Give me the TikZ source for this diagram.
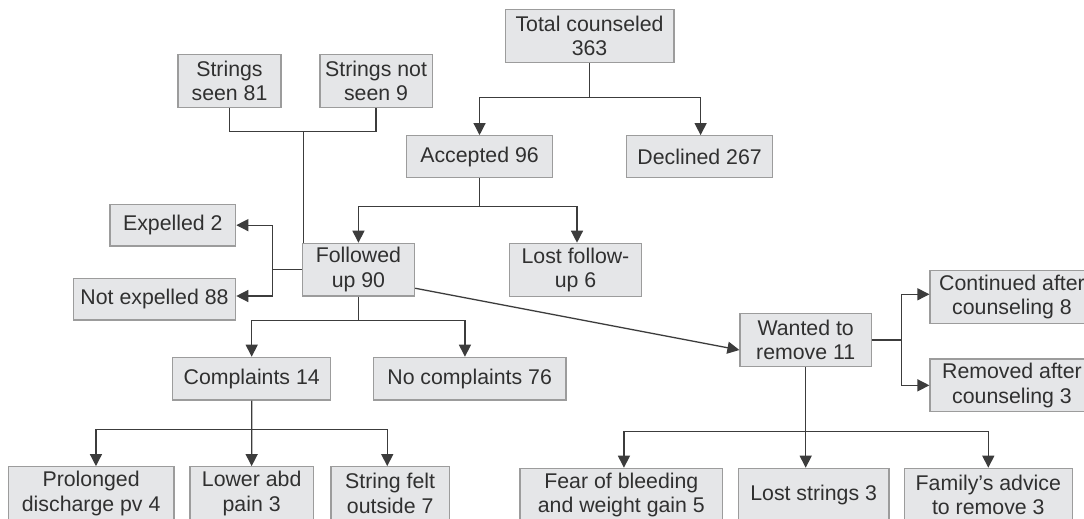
\documentclass[tikz,border=0pt]{standalone}
\usepackage{fontspec}
\setmainfont{Liberation Sans}
\usetikzlibrary{arrows.meta}
\definecolor{boxfill}{HTML}{E5E6E8}
\definecolor{boxline}{HTML}{9C9C9C}
\definecolor{txt}{HTML}{303030}
\definecolor{conn}{HTML}{3C3C3C}
\tikzset{
  box/.style={draw=boxline, line width=1.2pt, fill=boxfill, text=txt, inner sep=0pt,
    align=center, font=\fontsize{21.3}{24.5}\selectfont},
  ln/.style={draw=conn, line width=1.3pt},
  arr/.style={ln, -{Triangle[length=12pt,width=12pt]}, color=conn}
}
\begin{document}
\begin{tikzpicture}[x=1pt,y=-1pt]
\useasboundingbox (0,0) rectangle (1084,519);
\clip (0,0) rectangle (1084,519);
\fill[white] (0,0) rectangle (1084,519);

% nodes
\node[box, minimum width=168.7pt, minimum height=53.4pt] (total) at (589.55,36) {Total counseled\\363};
\node[box, minimum width=146.5pt, minimum height=42pt] (accepted) at (479.55,156.7) {Accepted 96};
\node[box, minimum width=146.4pt, minimum height=42pt] (declined) at (699.6,156.7) {Declined 267};
\node[box, minimum width=103pt, minimum height=53.4pt] (s81) at (229.5,81) {Strings\\seen 81};
\node[box, minimum width=112.3pt, minimum height=53.4pt] (s9) at (376.05,81) {Strings not\\seen 9};
\node[box, minimum width=125.7pt, minimum height=41.7pt] (expelled) at (172.85,225.15) {Expelled 2};
\node[box, minimum width=112.3pt, minimum height=52.7pt] (followed) at (358.45,269.65) {Followed\\up 90};
\node[box, minimum width=132.4pt, minimum height=53.4pt] (lost) at (575.5,270) {Lost follow-\\up 6};
\node[box, minimum width=162.4pt, minimum height=41.7pt] (notexp) at (154.5,299.15) {Not expelled 88};
\node[box, minimum width=158pt, minimum height=42.7pt] (complaints) at (251.7,378.65) {Complaints 14};
\node[box, minimum width=192.7pt, minimum height=42.7pt] (nocomp) at (469.65,378.65) {No complaints 76};
\node[box, minimum width=131.4pt, minimum height=53.4pt] (wanted) at (805.7,340) {Wanted to\\remove 11};
\node[box, minimum width=164pt, minimum height=52.6pt] (cont) at (1012,297) {Continued after\\counseling 8};
\node[box, minimum width=164pt, minimum height=52.7pt] (rem) at (1012,385.35) {Removed after\\counseling 3};
\node[box, minimum width=165.7pt, minimum height=53.4pt] (prolonged) at (91.15,493.4) {Prolonged\\discharge pv 4};
\node[box, minimum width=123.3pt, minimum height=53.4pt] (lower) at (251.65,493.4) {Lower abd\\pain 3};
\node[box, minimum width=118.3pt, minimum height=53.4pt] (string) at (390.15,493.4) {String felt\\outside 7};
\node[box, minimum width=202.7pt, minimum height=53.4pt] (fear) at (621.35,495) {Fear of bleeding\\and weight gain 5};
\node[box, minimum width=150.7pt, minimum height=53.4pt] (lostst) at (813.65,495) {Lost strings 3};
\node[box, minimum width=168pt, minimum height=53.4pt] (family) at (988.3,495) {Family{\char"0027}s advice\\to remove 3};

% junction points
\coordinate (j1) at (589.55,97.7);
\coordinate (j2) at (303.4,131.7);
\coordinate (j3) at (479.55,206.7);
\coordinate (j4) at (272.7,269.65);
\coordinate (j5) at (358.45,320.7);
\coordinate (j6) at (251.7,429.3);
\coordinate (j7) at (901.7,340);
\coordinate (j8) at (805.7,431.7);
\coordinate (yne) at (0,296);

% connectors
\draw[ln] (total.south) -- (j1);
\draw[arr] (j1) -| (accepted.north);
\draw[arr] (j1) -| ([xshift=1pt]declined.north);

\draw[ln] (s81.south) |- (j2);
\draw[ln] (s9.south) |- (j2);
\draw[ln] (j2) -- (j2 |- followed.north);

\draw[ln] (accepted.south) -- (j3);
\draw[arr] (j3) -| (followed.north);
\draw[arr] (j3) -| ([xshift=1.5pt]lost.north);

\draw[ln] (followed.west) -- (j4);
\draw[arr] (j4) |- (expelled.east);
\draw[arr] (j4) |- (notexp.east |- yne);

\draw[ln] (followed.south) -- (j5);
\draw[arr] (j5) -| (complaints.north);
\draw[arr] (j5) -| ([xshift=-4.7pt]nocomp.north);

\draw[arr] (complaints.south) -- (lower.north);
\draw[arr] (j6) -| ([xshift=4.8pt]prolonged.north);
\draw[arr] (j6) -| ([xshift=-2.9pt]string.north);

\draw[arr] ([yshift=-18.6pt]followed.east) -- ([yshift=-10pt]wanted.west);

\draw[ln] (wanted.east) -- (j7);
\draw[arr] (j7) |- ([yshift=2.7pt]cont.west);
\draw[arr] (j7) |- (rem.west);

\draw[ln] (wanted.south) -- (j8);
\draw[arr] (j8) -- (j8 |- lostst.north);
\draw[arr] (j8) -| ([xshift=2.6pt]fear.north);
\draw[arr] (j8) -| (family.north);
\end{tikzpicture}
\end{document}
